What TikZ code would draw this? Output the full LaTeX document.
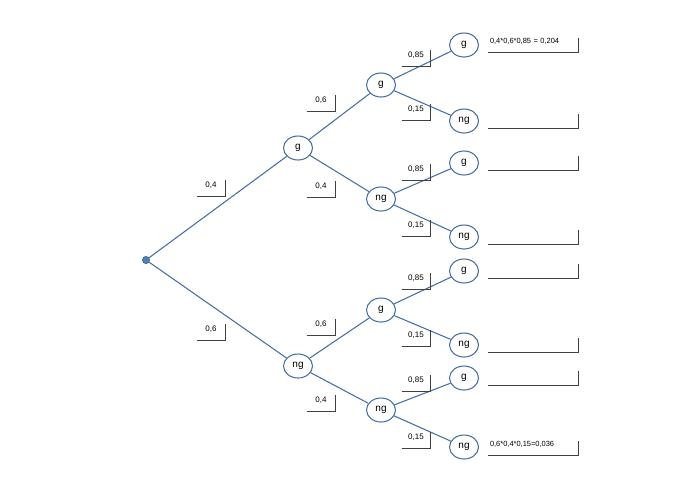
\documentclass[tikz,border=0pt]{standalone}
\usepackage{fontspec}
\setmainfont{Liberation Sans}
\definecolor{edgeblue}{RGB}{70,112,162}
\definecolor{dotblue}{RGB}{79,129,189}
\definecolor{dotrim}{RGB}{56,93,138}
\usetikzlibrary{shapes.geometric}

\begin{document}
\begin{tikzpicture}[
  x=0.75pt, y=-0.75pt,
  treenode/.style={draw=edgeblue, line width=0.8pt, ellipse, fill=white, minimum width=21.75pt, minimum height=18pt, inner sep=0pt, font=\fontsize{7.5}{9}\selectfont},
  rootdot/.style={circle, draw=dotrim, fill=dotblue, minimum size=5.5pt, inner sep=0pt},
  problab/.style={minimum width=21pt, inner sep=0pt, text height=5.25pt, text depth=6.75pt, font=\fontsize{6}{7}\selectfont},
  resbox/.style={text width=64.5pt, align=left, inner xsep=1.5pt, inner ysep=0pt, text height=4.1pt, text depth=6.6pt, font=\fontsize{5.6}{7}\selectfont},
  branch/.style={draw=edgeblue, line width=0.8pt},
  tick/.style={draw=black!75, line width=0.6pt}
]
  \useasboundingbox (0,0) rectangle (680,480);

  % tree nodes
  \node[rootdot] (root) at (146,260) {};
  \node[treenode] (g) at (298,148) {g};
  \node[treenode] (ng) at (298,366) {ng};
  \node[treenode] (gg) at (381,85) {g};
  \node[treenode] (gng) at (381,199) {ng};
  \node[treenode] (ngg) at (381,310) {g};
  \node[treenode] (ngng) at (381,410) {ng};
  \node[treenode] (ggg) at (464,45) {g};
  \node[treenode] (ggng) at (464,121) {ng};
  \node[treenode] (gngg) at (464,163) {g};
  \node[treenode] (gngng) at (464,237) {ng};
  \node[treenode] (nggg) at (464,271) {g};
  \node[treenode] (ngging) at (464,345) {ng};
  \node[treenode] (ngngg) at (464,378) {g};
  \node[treenode] (ngngng) at (464,447) {ng};

  % branches
  \draw[branch] (root) -- (g);
  \draw[branch] (root) -- (ng);
  \draw[branch] (g) -- (gg);
  \draw[branch] (g) -- (gng);
  \draw[branch] (ng) -- (ngg);
  \draw[branch] (ng) -- (ngng);
  \draw[branch] (gg) -- (ggg);
  \draw[branch] (gg) -- (ggng);
  \draw[branch] (gng) -- (gngg);
  \draw[branch] (gng) -- (gngng);
  \draw[branch] (ngg) -- (nggg);
  \draw[branch] (ngg) -- (ngging);
  \draw[branch] (ngng) -- (ngngg);
  \draw[branch] (ngng) -- (ngngng);

  % probabilities
  \node[problab] (pg) at (211,188) {0,4};
  \node[problab] (png) at (211,332) {0,6};
  \node[problab] (pgg) at (321,103) {0,6};
  \node[problab] (pgng) at (321,189.5) {0,4};
  \node[problab] (pngg) at (321,327) {0,6};
  \node[problab] (pngng) at (321,403.5) {0,4};
  \node[problab] (pggg) at (416,58) {0,85};
  \node[problab] (pggng) at (416,112.5) {0,15};
  \node[problab] (pgngg) at (416,172.5) {0,85};
  \node[problab] (pgngng) at (416,228.5) {0,15};
  \node[problab] (pnggg) at (416,281) {0,85};
  \node[problab] (pngging) at (416,338) {0,15};
  \node[problab] (pngngg) at (416,383) {0,85};
  \node[problab] (pngngng) at (416,440) {0,15};

  % results
  \node[resbox] (rggg) at (533,45) {0,4*0,6*0,85 = 0,204};
  \node[resbox] (rggng) at (533,121) {};
  \node[resbox] (rgngg) at (533,163) {};
  \node[resbox] (rgngng) at (533,237) {};
  \node[resbox] (rnggg) at (533,271) {};
  \node[resbox] (rngging) at (533,345) {};
  \node[resbox] (rngngg) at (533,378) {};
  \node[resbox] (rngngng) at (533,448) {0,6*0,4*0,15=0,036};

  \foreach \b in {pg,png,pgg,pgng,pngg,pngng,pggg,pggng,pgngg,pgngng,pnggg,pngging,pngngg,pngngng,
                  rggg,rggng,rgngg,rgngng,rnggg,rngging,rngngg,rngngng}
    \draw[tick] (\b.south west) -| (\b.north east);
\end{tikzpicture}
\end{document}
